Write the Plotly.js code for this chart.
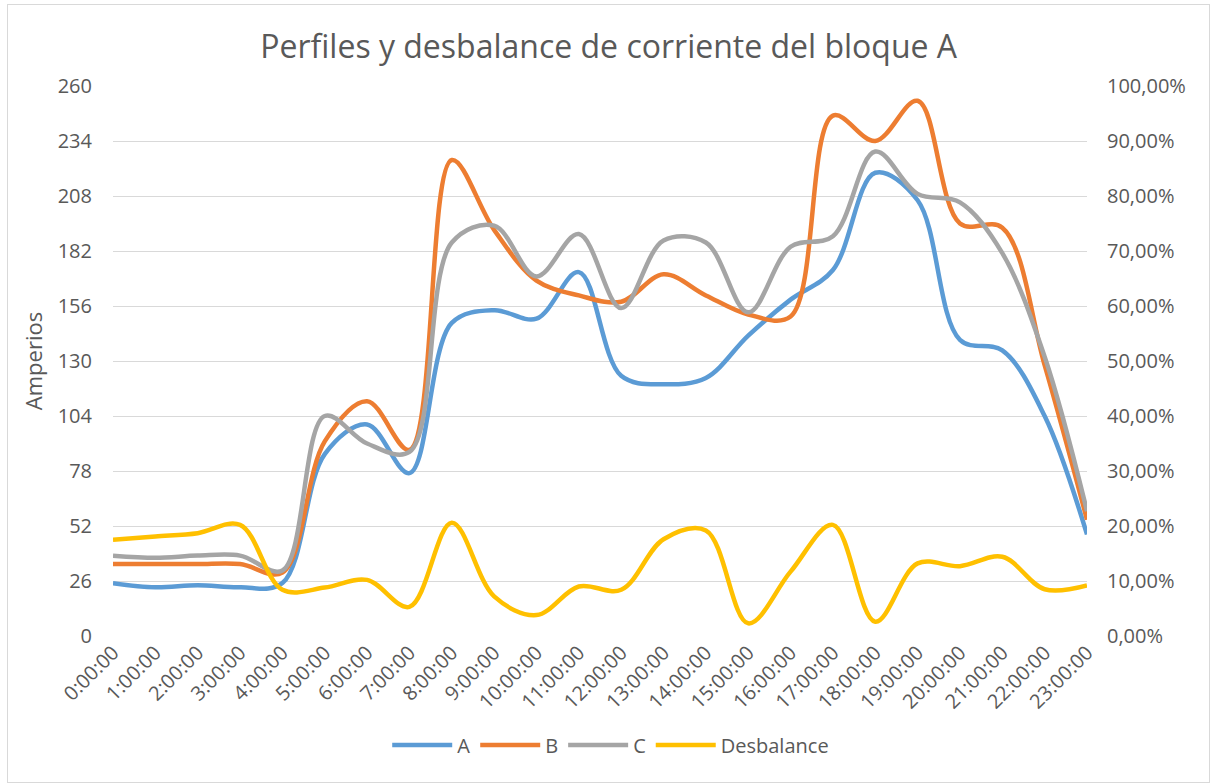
<!DOCTYPE html>
<html>
<head>
<meta charset="utf-8">
<script src="https://cdn.plot.ly/plotly-3.0.1.min.js"></script>
<style>
  html, body { margin: 0; padding: 0; background: #ffffff; }
  #wrap { position: relative; width: 1210px; height: 783px; }
  #chart { width: 1210px; height: 783px; }
  #frame { position: absolute; left: 7px; top: 4px; width: 1201px; height: 777px; border: 1px solid #d9d9d9; pointer-events: none; }
</style>
</head>
<body>
<div id="wrap">
  <div id="chart"></div>
  <div id="frame"></div>
</div>
<script>
const horas = ["0:00:00","1:00:00","2:00:00","3:00:00","4:00:00","5:00:00","6:00:00","7:00:00",
  "8:00:00","9:00:00","10:00:00","11:00:00","12:00:00","13:00:00","14:00:00","15:00:00",
  "16:00:00","17:00:00","18:00:00","19:00:00","20:00:00","21:00:00","22:00:00","23:00:00"];

const faseA = [25, 23, 24, 23, 25, 86, 100, 77, 148, 154, 150, 172, 123, 119, 122, 142, 159, 173, 219, 206, 140, 135, 104, 48];
const faseB = [34, 34, 34, 34, 30, 92, 111, 88, 225, 192, 168, 161, 158, 171, 161, 152, 151, 246, 234, 253, 195, 193, 128, 55];
const faseC = [38, 37, 38, 38, 31, 104, 91, 87, 186, 194, 170, 190, 155, 187, 186, 153, 184, 189, 229, 209, 205, 181, 132, 59];
const desbalance = [0.175, 0.181, 0.187, 0.202, 0.084, 0.088, 0.102, 0.053, 0.206, 0.072, 0.038, 0.090, 0.084, 0.176, 0.192, 0.023, 0.117, 0.202, 0.026, 0.132, 0.127, 0.144, 0.085, 0.092];

const leftTicks = [0, 26, 52, 78, 104, 130, 156, 182, 208, 234, 260];

const txt = "#595959";
const font = "Open Sans, sans-serif";

function serie(name, y, color, axis) {
  return {
    type: "scatter", mode: "lines", name: name, x: horas, y: y,
    yaxis: axis, line: { color: color, width: 4.5, shape: "spline", smoothing: 1 },
    hoverinfo: "x+y+name"
  };
}

const data = [
  serie("A", faseA, "#5B9BD5", "y"),
  serie("B", faseB, "#ED7D31", "y"),
  serie("C", faseC, "#A5A5A5", "y"),
  serie("Desbalance", desbalance, "#FFC000", "y2")
];

const layout = {
  width: 1210, height: 783,
  paper_bgcolor: "#ffffff", plot_bgcolor: "#ffffff",
  separators: ",.",
  margin: { l: 113, r: 123, t: 86, b: 147, pad: 0 },
  font: { family: font, color: txt, size: 20 },
  title: {
    text: "Perfiles y desbalance de corriente del bloque A",
    font: { family: font, size: 32, color: txt },
    x: 0.503, xref: "container", xanchor: "center",
    y: 1 - 47/783, yref: "container", yanchor: "middle"
  },
  xaxis: {
    type: "category", range: [0, 23],
    tickangle: -45, showgrid: false, zeroline: false,
    showline: false, ticks: "",
    tickfont: { family: font, size: 20, color: txt },
    automargin: false
  },
  yaxis: {
    range: [0, 260], tickvals: leftTicks, ticktext: leftTicks.map(String),
    gridcolor: "#d9d9d9", gridwidth: 1.3, zeroline: false, showline: false, ticks: "",
    ticklabelstandoff: 20,
    tickfont: { family: font, size: 20, color: txt },
    title: { text: "Amperios", font: { family: font, size: 22, color: txt }, standoff: 8 },
    automargin: false
  },
  yaxis2: {
    overlaying: "y", side: "right", range: [0, 1], dtick: 0.1, tick0: 0,
    tickformat: ".2%", showgrid: false, zeroline: false, showline: false, ticks: "",
    ticklabelstandoff: 19,
    tickfont: { family: font, size: 20, color: txt },
    automargin: false
  },
  showlegend: true,
  legend: {
    orientation: "h", x: 0.511, xanchor: "center", y: -0.198, yanchor: "middle",
    font: { family: font, size: 20, color: txt },
    traceorder: "normal", itemwidth: 60, bgcolor: "rgba(0,0,0,0)"
  }
};

Plotly.newPlot("chart", data, layout, { displayModeBar: false, responsive: false });
</script>
</body>
</html>
